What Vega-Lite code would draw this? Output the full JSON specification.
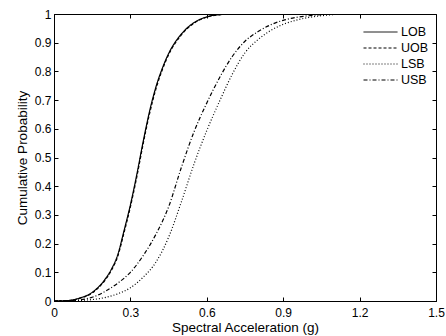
{
  "$schema": "https://vega.github.io/schema/vega-lite/v6.json",
  "width": 382,
  "height": 287,
  "autosize": {"type": "none"},
  "padding": {"left": 54, "top": 14, "right": 10, "bottom": 35},
  "background": "white",
  "config": {
    "view": {"stroke": "black", "strokeWidth": 1},
    "font": "Liberation Sans",
    "axis": {
      "grid": false,
      "domainColor": "black",
      "tickColor": "black",
      "tickSize": -4,
      "labelFont": "Liberation Sans",
      "labelFontSize": 12,
      "labelColor": "black",
      "titleFont": "Liberation Sans",
      "titleFontSize": 13.5,
      "titleFontWeight": "normal",
      "titleColor": "black",
      "labelOverlap": false,
      "labelBound": false,
      "labelFlush": false
    },
    "legend": {
      "labelFont": "Liberation Sans",
      "labelFontSize": 12.5,
      "labelColor": "black"
    }
  },
  "data": {
    "values": [
      {"s":"LOB","x":0,"p":0},{"s":"LOB","x":0.05,"p":0.001},{"s":"LOB","x":0.1,"p":0.01},{"s":"LOB","x":0.15,"p":0.03},{"s":"LOB","x":0.2,"p":0.075},{"s":"LOB","x":0.225,"p":0.11},{"s":"LOB","x":0.25,"p":0.16},{"s":"LOB","x":0.275,"p":0.245},{"s":"LOB","x":0.3,"p":0.335},{"s":"LOB","x":0.325,"p":0.44},{"s":"LOB","x":0.35,"p":0.555},{"s":"LOB","x":0.375,"p":0.66},{"s":"LOB","x":0.4,"p":0.745},{"s":"LOB","x":0.425,"p":0.81},{"s":"LOB","x":0.45,"p":0.862},{"s":"LOB","x":0.5,"p":0.93},{"s":"LOB","x":0.55,"p":0.97},{"s":"LOB","x":0.6,"p":0.99},{"s":"LOB","x":0.65,"p":0.998},{"s":"LOB","x":0.7,"p":1},{"s":"LOB","x":1.5,"p":1},
      {"s":"UOB","x":0,"p":0},{"s":"UOB","x":0.05,"p":0.001},{"s":"UOB","x":0.1,"p":0.009},{"s":"UOB","x":0.15,"p":0.028},{"s":"UOB","x":0.2,"p":0.072},{"s":"UOB","x":0.225,"p":0.106},{"s":"UOB","x":0.25,"p":0.155},{"s":"UOB","x":0.275,"p":0.238},{"s":"UOB","x":0.3,"p":0.328},{"s":"UOB","x":0.325,"p":0.432},{"s":"UOB","x":0.35,"p":0.547},{"s":"UOB","x":0.375,"p":0.652},{"s":"UOB","x":0.4,"p":0.738},{"s":"UOB","x":0.425,"p":0.805},{"s":"UOB","x":0.45,"p":0.858},{"s":"UOB","x":0.5,"p":0.927},{"s":"UOB","x":0.55,"p":0.968},{"s":"UOB","x":0.6,"p":0.989},{"s":"UOB","x":0.65,"p":0.997},{"s":"UOB","x":0.7,"p":1},{"s":"UOB","x":1.5,"p":1},
      {"s":"LSB","x":0,"p":0},{"s":"LSB","x":0.05,"p":0.0005},{"s":"LSB","x":0.1,"p":0.002},{"s":"LSB","x":0.15,"p":0.005},{"s":"LSB","x":0.2,"p":0.012},{"s":"LSB","x":0.25,"p":0.025},{"s":"LSB","x":0.3,"p":0.046},{"s":"LSB","x":0.35,"p":0.083},{"s":"LSB","x":0.4,"p":0.135},{"s":"LSB","x":0.45,"p":0.222},{"s":"LSB","x":0.5,"p":0.345},{"s":"LSB","x":0.55,"p":0.478},{"s":"LSB","x":0.6,"p":0.594},{"s":"LSB","x":0.65,"p":0.696},{"s":"LSB","x":0.7,"p":0.79},{"s":"LSB","x":0.75,"p":0.865},{"s":"LSB","x":0.8,"p":0.91},{"s":"LSB","x":0.85,"p":0.942},{"s":"LSB","x":0.9,"p":0.964},{"s":"LSB","x":0.95,"p":0.978},{"s":"LSB","x":1.0,"p":0.988},{"s":"LSB","x":1.05,"p":0.994},{"s":"LSB","x":1.1,"p":0.998},{"s":"LSB","x":1.15,"p":1},{"s":"LSB","x":1.5,"p":1},
      {"s":"USB","x":0,"p":0},{"s":"USB","x":0.05,"p":0.001},{"s":"USB","x":0.1,"p":0.004},{"s":"USB","x":0.15,"p":0.013},{"s":"USB","x":0.2,"p":0.033},{"s":"USB","x":0.25,"p":0.062},{"s":"USB","x":0.3,"p":0.1},{"s":"USB","x":0.35,"p":0.158},{"s":"USB","x":0.4,"p":0.232},{"s":"USB","x":0.45,"p":0.328},{"s":"USB","x":0.5,"p":0.465},{"s":"USB","x":0.55,"p":0.59},{"s":"USB","x":0.6,"p":0.69},{"s":"USB","x":0.65,"p":0.778},{"s":"USB","x":0.7,"p":0.852},{"s":"USB","x":0.75,"p":0.905},{"s":"USB","x":0.8,"p":0.938},{"s":"USB","x":0.85,"p":0.962},{"s":"USB","x":0.9,"p":0.978},{"s":"USB","x":0.95,"p":0.988},{"s":"USB","x":1.0,"p":0.994},{"s":"USB","x":1.05,"p":0.998},{"s":"USB","x":1.1,"p":1},{"s":"USB","x":1.5,"p":1}
    ]
  },
  "layer": [
    {
      "mark": {"type": "line", "color": "black", "strokeWidth": 1.2, "interpolate": "monotone", "clip": true},
      "encoding": {
        "x": {"field": "x", "type": "quantitative",
              "scale": {"domain": [0, 1.5], "nice": false, "zero": false},
              "axis": {"orient": "bottom", "values": [0, 0.3, 0.6, 0.9, 1.2, 1.5], "format": "~g", "labelPadding": 10, "title": "Spectral Acceleration (g)", "titlePadding": 2}},
        "y": {"field": "p", "type": "quantitative",
              "scale": {"domain": [0, 1], "nice": false},
              "axis": {"orient": "left", "values": [0,0.1,0.2,0.3,0.4,0.5,0.6,0.7,0.8,0.9,1], "format": "~g", "labelPadding": 7, "title": "Cumulative Probability", "titlePadding": 5}},
        "strokeDash": {"field": "s", "type": "nominal",
              "scale": {"domain": ["LOB", "UOB", "LSB", "USB"], "range": [[1, 0], [3, 2], [1, 2], [4, 2, 1, 2]]},
              "legend": {"title": null, "orient": "none", "legendX": 309, "legendY": 10, "symbolType": "stroke", "symbolSize": 1156, "symbolStrokeColor": "black", "symbolStrokeWidth": 1, "labelOffset": 3, "rowPadding": 0, "clipHeight": 16}},
        "detail": {"field": "s"}
      }
    },
    {
      "mark": {"type": "point", "opacity": 0},
      "encoding": {
        "x": {"field": "x", "type": "quantitative",
              "axis": {"orient": "top", "values": [0, 0.3, 0.6, 0.9, 1.2, 1.5], "labels": false, "domain": false, "title": null}},
        "y": {"field": "p", "type": "quantitative",
              "axis": {"orient": "right", "values": [0,0.1,0.2,0.3,0.4,0.5,0.6,0.7,0.8,0.9,1], "labels": false, "domain": false, "title": null}}
      }
    }
  ],
  "resolve": {"axis": {"x": "independent", "y": "independent"}}
}
